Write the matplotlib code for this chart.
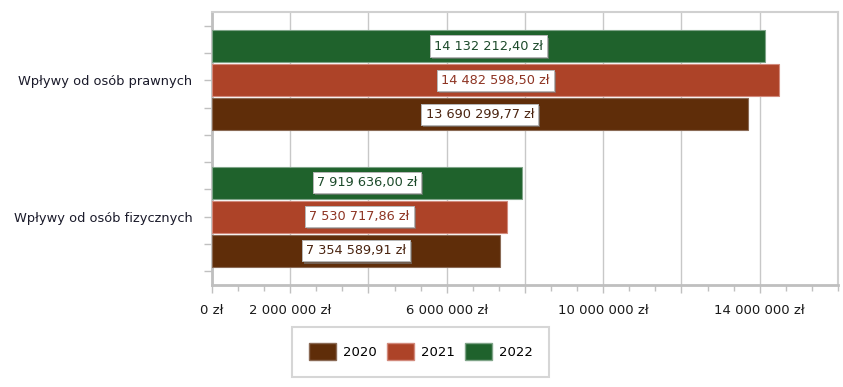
import matplotlib
matplotlib.use("Agg")
import matplotlib.pyplot as plt
import matplotlib.patheffects as pe
from matplotlib.ticker import MultipleLocator, FixedLocator, FixedFormatter
from matplotlib.patches import Patch

categories = ["Wpływy od osób fizycznych", "Wpływy od osób prawnych"]
years = ["2020", "2021", "2022"]
v2020 = [7354589.91, 13690299.77]
v2021 = [7530717.86, 14482598.50]
v2022 = [7919636.00, 14132212.40]

colors = ["#5f2d09", "#ad4328", "#1f622c"]
edges = ["#8a6a55", "#d28a7c", "#7fa488"]
txtcol = ["#4a2410", "#8e3423", "#1c4a2a"]


def fmt(v):
    s = "{:,.2f}".format(v).replace(",", " ").replace(".", ",")
    return s + " zł"


plt.rcParams['font.family'] = ['DejaVu Sans']
fig = plt.figure(figsize=(8.43, 3.87), dpi=100)
ax = fig.add_axes([0.2515, 0.2636, 0.994 - 0.2515, 0.969 - 0.2636])

series = [v2020, v2021, v2022]
offs = [-0.25, 0.0, 0.25]
h = 0.235
for i, vals in enumerate(series):
    ys = [k + offs[i] for k in range(len(categories))]
    ax.barh(ys, vals, height=h, color=colors[i], edgecolor=edges[i],
            linewidth=0.8, zorder=3)
    for y, v in zip(ys, vals):
        t = ax.text(v / 2, y, fmt(v), ha="center", va="center",
                    fontsize=9.3, color=txtcol[i], zorder=5,
                    bbox=dict(boxstyle="square,pad=0.32", fc="white",
                              ec="#b0b0b0", lw=0.6))
        t.get_bbox_patch().set_path_effects(
            [pe.withSimplePatchShadow(offset=(1.5, -1.5), shadow_rgbFace="#808080", alpha=0.6),
             pe.Normal()])

ax.set_xlim(0, 16e6)
ax.set_ylim(-0.5, 1.5)

xt = [0, 2e6, 4e6, 6e6, 8e6, 10e6, 12e6, 14e6]
xl = ["0 zł", "2 000 000 zł", "", "6 000 000 zł", "", "10 000 000 zł", "", "14 000 000 zł"]
ax.xaxis.set_major_locator(FixedLocator(xt))
ax.xaxis.set_major_formatter(FixedFormatter(xl))
ax.xaxis.set_minor_locator(MultipleLocator(2e6 / 3))
ax.grid(axis="x", which="major", color="#c8c8c8", lw=1, zorder=0)
ax.tick_params(axis="x", which="major", length=6, width=1, color="#c0c0c0",
               labelsize=9.5, labelcolor="#1a1a1a", pad=8)
ax.tick_params(axis="x", which="minor", length=4, width=1, color="#c0c0c0")

ax.set_yticks([0, 1])
ax.set_yticklabels(categories)
ax.yaxis.set_minor_locator(FixedLocator([-0.4, -0.2, 0.2, 0.4, 0.6, 0.8, 1.2, 1.4]))
ax.tick_params(axis="y", which="major", length=6, width=1, color="#c0c0c0",
               labelsize=9.4, labelcolor="#1a1a2a", pad=8)
ax.tick_params(axis="y", which="minor", length=6, width=1, color="#c0c0c0")

for s in ["left", "bottom"]:
    ax.spines[s].set_color("#bfbfbf")
    ax.spines[s].set_linewidth(2)
for s in ["top", "right"]:
    ax.spines[s].set_color("#d0d0d0")
    ax.spines[s].set_linewidth(1.5)

handles = [Patch(facecolor=colors[i], edgecolor=edges[i], label=years[i]) for i in range(3)]
leg = fig.legend(handles=handles, loc="center", bbox_to_anchor=(0.499, 0.091), ncol=3,
                 frameon=True, fontsize=9.5, handlelength=2.1, handleheight=1.6,
                 borderpad=1.25, columnspacing=0.75, handletextpad=0.5, fancybox=False,
                 borderaxespad=0)
leg.get_frame().set_edgecolor("#cccccc")
leg.get_frame().set_linewidth(1.5)

fig.savefig("out.png", dpi=100)
